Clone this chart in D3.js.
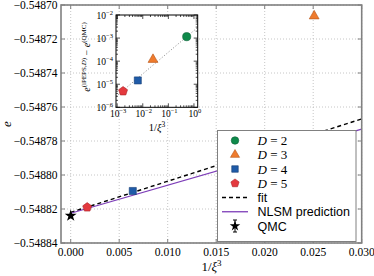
<!DOCTYPE html>
<html>
<head>
<meta charset="utf-8">
<script src="https://cdn.jsdelivr.net/npm/d3@7"></script>
<style>
	html, body { margin: 0; padding: 0; background: #fff; }
	svg { display: block; }
</style>
</head>
<body>
<svg id="chart"></svg>
<script>
	// data
	var seriesNames = ['D = 2', 'D = 3', 'D = 4', 'D = 5'],
		bondDims = [2, 3, 4, 5],
		invXi3 = [0.52, 0.0251, 0.0064, 0.0017],
		energies = [-0.547674, -0.5487065, -0.5488094, -0.548819],
		qmcX = 0,
		qmcE = -0.548824,
		qmcErr = 0.0000004,
		fitX = [0, 0.030],
		fitE = [-0.548822, -0.548767],
		nlsmX = [0, 0.030],
		nlsmE = [-0.5488225, -0.548773],
		insetFitX = [0.0009, 1.4],
		insetFitY = [2.95e-6, 2.9e-3],
		xTicks = [0, 0.005, 0.010, 0.015, 0.020, 0.025, 0.030],
		yTicks = [-0.54884, -0.54882, -0.54880, -0.54878, -0.54876, -0.54874, -0.54872, -0.54870],
		insetXTicks = [-3, -2, -1, 0],
		insetYTicks = [-6, -5, -4, -3, -2];

	var colours = ['#0f8a4b', '#ef7b2d', '#1f5ba8', '#e4393e'],
		edgeColours = ['#0a6035', '#b5561a', '#143d73', '#a92428'];

	var W = 374, H = 276,
		serif = '"Liberation Serif", "DejaVu Serif", serif',
		sans = '"Liberation Sans", Arial, sans-serif';

	var svg = d3.select('#chart').attr('width', W).attr('height', H);

	// pentagon symbol for D = 5
	var symbolPentagon = {
		draw: function (context, size) {
			var r = Math.sqrt(size / 2.378), k;
			for (k = 0; k < 5; k++) {
				var a = -Math.PI / 2 + k * 2 * Math.PI / 5;
				if (k === 0) {
					context.moveTo(r * Math.cos(a), r * Math.sin(a));
				} else {
					context.lineTo(r * Math.cos(a), r * Math.sin(a));
				}
			}
			context.closePath();
		}
	};
	var symbolTypes = [d3.symbolCircle, d3.symbolTriangle, d3.symbolSquare, symbolPentagon],
		symbolSizes = [52, 42, 50, 52];

	var markerPath = function (i, scale) {
		return d3.symbol().type(symbolTypes[i]).size(symbolSizes[i] * (scale || 1))();
	};

	// ---------------- main axes ----------------
	var x = d3.scaleLinear().domain([-0.001, 0.030]).range([61, 361.7]),
		y = d3.scaleLinear().domain([-0.54884, -0.54870]).range([243, 5]);

	svg.append('clipPath').attr('id', 'mainClip')
		.append('rect')
		.attr('x', x.range()[0]).attr('y', y.range()[1])
		.attr('width', x.range()[1] - x.range()[0])
		.attr('height', y.range()[0] - y.range()[1]);

	var grid = svg.append('g').attr('class', 'grid');
	grid.selectAll('.gx').data(xTicks).enter().append('line')
		.attr('x1', x).attr('x2', x)
		.attr('y1', y.range()[0]).attr('y2', y.range()[1]);
	grid.selectAll('.gy').data(yTicks).enter().append('line')
		.attr('x1', x.range()[0]).attr('x2', x.range()[1])
		.attr('y1', y).attr('y2', y);
	grid.selectAll('line')
		.attr('stroke', '#b8b8b8')
		.attr('stroke-width', 0.8)
		.attr('stroke-dasharray', '1,2');

	var plot = svg.append('g').attr('clip-path', 'url(#mainClip)');

	var line = d3.line()
		.x(function (d) { return x(d[0]); })
		.y(function (d) { return y(d[1]); });

	plot.append('path')
		.attr('d', line(d3.zip(fitX, fitE)))
		.attr('fill', 'none')
		.attr('stroke', '#000')
		.attr('stroke-width', 1.4)
		.attr('stroke-dasharray', '4,3');

	plot.append('path')
		.attr('d', line(d3.zip(nlsmX, nlsmE)))
		.attr('fill', 'none')
		.attr('stroke', '#7d3db8')
		.attr('stroke-width', 1.3);

	// QMC point with error bar
	plot.append('line')
		.attr('x1', x(qmcX)).attr('x2', x(qmcX))
		.attr('y1', y(qmcE - qmcErr)).attr('y2', y(qmcE + qmcErr))
		.attr('stroke', '#000');
	plot.append('path')
		.attr('d', d3.symbol().type(d3.symbolStar).size(44)())
		.attr('transform', 'translate(' + x(qmcX) + ',' + y(qmcE) + ')')
		.attr('fill', '#000');

	plot.selectAll('.pt')
		.data(bondDims).enter()
		.append('path')
			.attr('class', 'pt')
			.attr('d', function (d, i) { return markerPath(i); })
			.attr('transform', function (d, i) {
				return 'translate(' + x(invXi3[i]) + ',' + y(energies[i]) + ')';
			})
			.attr('fill', function (d, i) { return colours[i]; })
			.attr('stroke', function (d, i) { return edgeColours[i]; })
			.attr('stroke-width', 0.6);

	// ticks, inward, on all sides
	var ticks = svg.append('g').attr('stroke', '#808080').attr('stroke-width', 1);
	xTicks.forEach(function (t) {
		ticks.append('line').attr('x1', x(t)).attr('x2', x(t)).attr('y1', y.range()[0]).attr('y2', y.range()[0] - 4);
		ticks.append('line').attr('x1', x(t)).attr('x2', x(t)).attr('y1', y.range()[1]).attr('y2', y.range()[1] + 4);
	});
	yTicks.forEach(function (t) {
		ticks.append('line').attr('x1', x.range()[0]).attr('x2', x.range()[0] + 4).attr('y1', y(t)).attr('y2', y(t));
		ticks.append('line').attr('x1', x.range()[1]).attr('x2', x.range()[1] - 4).attr('y1', y(t)).attr('y2', y(t));
	});

	svg.append('rect')
		.attr('x', x.range()[0]).attr('y', y.range()[1])
		.attr('width', x.range()[1] - x.range()[0])
		.attr('height', y.range()[0] - y.range()[1])
		.attr('fill', 'none')
		.attr('stroke', '#808080')
		.attr('stroke-width', 1.6);

	svg.selectAll('.xl').data(xTicks).enter().append('text')
		.attr('x', x).attr('y', 256)
		.attr('text-anchor', 'middle')
		.style('font', '11.5px ' + serif)
		.text(function (d) { return d3.format('.3f')(d); });

	svg.selectAll('.yl').data(yTicks).enter().append('text')
		.attr('x', 57.5).attr('y', function (d) { return y(d) + 4; })
		.attr('text-anchor', 'end')
		.style('font', '11.5px ' + serif)
		.text(function (d) { return d3.format('.5f')(d).replace('-', '\u2212'); });

	svg.append('text')
		.attr('transform', 'translate(11,124) rotate(-90)')
		.attr('text-anchor', 'middle')
		.style('font', 'italic 13px ' + serif)
		.text('e');

	var xLabel = svg.append('text')
		.attr('x', 211.5).attr('y', 271)
		.attr('text-anchor', 'middle')
		.style('font', '13px ' + serif);
	xLabel.append('tspan').text('1/');
	xLabel.append('tspan').style('font-style', 'italic').text('\u03be');
	xLabel.append('tspan').attr('dy', -5).style('font-size', '9px').text('3');

	// ---------------- inset ----------------
	var ix = d3.scaleLog().domain([0.0009, 1.4]).range([116, 197.7]),
		iy = d3.scaleLog().domain([1e-6, 1e-2]).range([107.3, 15]);

	svg.append('rect')
		.attr('x', 116).attr('y', 15)
		.attr('width', 81.7).attr('height', 92.3)
		.attr('fill', '#fff');

	var inset = svg.append('g');

	inset.append('path')
		.attr('d', d3.line()
			.x(function (d) { return ix(d[0]); })
			.y(function (d) { return iy(d[1]); })(d3.zip(insetFitX, insetFitY)))
		.attr('fill', 'none')
		.attr('stroke', '#777')
		.attr('stroke-width', 0.9)
		.attr('stroke-dasharray', '1,2');

	inset.selectAll('.ipt')
		.data(bondDims).enter()
		.append('path')
			.attr('d', function (d, i) { return markerPath(i); })
			.attr('transform', function (d, i) {
				return 'translate(' + ix(invXi3[i]) + ',' + iy(energies[i] - qmcE) + ')';
			})
			.attr('fill', function (d, i) { return colours[i]; })
			.attr('stroke', function (d, i) { return edgeColours[i]; })
			.attr('stroke-width', 0.6);

	var iticks = svg.append('g').attr('stroke', '#000').attr('stroke-width', 0.7);
	var minor = [2, 3, 4, 5, 6, 7, 8, 9];
	insetXTicks.forEach(function (p) {
		var v = Math.pow(10, p);
		iticks.append('line').attr('x1', ix(v)).attr('x2', ix(v)).attr('y1', 107.3).attr('y2', 103.3);
		iticks.append('line').attr('x1', ix(v)).attr('x2', ix(v)).attr('y1', 15).attr('y2', 19);
		minor.forEach(function (m) {
			var mv = m * v;
			if (mv > ix.domain()[1] || mv < ix.domain()[0]) { return; }
			iticks.append('line').attr('x1', ix(mv)).attr('x2', ix(mv)).attr('y1', 107.3).attr('y2', 105.3);
			iticks.append('line').attr('x1', ix(mv)).attr('x2', ix(mv)).attr('y1', 15).attr('y2', 17);
		});
	});
	insetYTicks.forEach(function (p) {
		var v = Math.pow(10, p);
		iticks.append('line').attr('x1', 116).attr('x2', 120).attr('y1', iy(v)).attr('y2', iy(v));
		iticks.append('line').attr('x1', 197.7).attr('x2', 193.7).attr('y1', iy(v)).attr('y2', iy(v));
		if (p === -2) { return; }
		minor.forEach(function (m) {
			var mv = m * v;
			iticks.append('line').attr('x1', 116).attr('x2', 118).attr('y1', iy(mv)).attr('y2', iy(mv));
			iticks.append('line').attr('x1', 197.7).attr('x2', 195.7).attr('y1', iy(mv)).attr('y2', iy(mv));
		});
	});

	svg.append('rect')
		.attr('x', 116).attr('y', 15)
		.attr('width', 81.7).attr('height', 92.3)
		.attr('fill', 'none')
		.attr('stroke', '#000')
		.attr('stroke-width', 1);

	var powLabel = function (sel, p) {
		sel.append('tspan').text('10');
		sel.append('tspan').attr('dy', -4).style('font-size', '6.5px')
			.text(String(p).replace('-', '\u2212'));
	};

	insetXTicks.forEach(function (p) {
		var t = svg.append('text')
			.attr('x', ix(Math.pow(10, p)) + 1).attr('y', 117)
			.attr('text-anchor', 'middle')
			.style('font', '9.5px ' + serif);
		powLabel(t, p);
	});
	insetYTicks.forEach(function (p) {
		var t = svg.append('text')
			.attr('x', 113).attr('y', iy(Math.pow(10, p)) + 3.5)
			.attr('text-anchor', 'end')
			.style('font', '9.5px ' + serif);
		powLabel(t, p);
	});

	var iyLabel = svg.append('text')
		.attr('transform', 'translate(90,57) rotate(-90)')
		.attr('text-anchor', 'middle')
		.style('font', '10px ' + serif);
	iyLabel.append('tspan').style('font-style', 'italic').text('e');
	iyLabel.append('tspan').attr('dy', -4).style('font-size', '7px').text('(iPEPS,');
	iyLabel.append('tspan').style('font-size', '7px').style('font-style', 'italic').text('D');
	iyLabel.append('tspan').style('font-size', '7px').text(')');
	iyLabel.append('tspan').attr('dy', 4).text(' \u2212 ');
	iyLabel.append('tspan').style('font-style', 'italic').text('e');
	iyLabel.append('tspan').attr('dy', -4).style('font-size', '7px').text('(QMC)');

	var ixLabel = svg.append('text')
		.attr('x', 157).attr('y', 131)
		.attr('text-anchor', 'middle')
		.style('font', '10.5px ' + serif);
	ixLabel.append('tspan').text('1/');
	ixLabel.append('tspan').style('font-style', 'italic').text('\u03be');
	ixLabel.append('tspan').attr('dy', -4).style('font-size', '7.5px').text('3');

	// ---------------- legend ----------------
	var legend = svg.append('g');
	legend.append('rect')
		.attr('x', 217.5).attr('y', 130.5)
		.attr('width', 138.5).attr('height', 111)
		.attr('fill', '#fff')
		.attr('stroke', '#808080')
		.attr('stroke-width', 1);

	var rowY = function (k) { return 140.5 + k * 14.25; };

	seriesNames.forEach(function (name, i) {
		legend.append('path')
			.attr('d', markerPath(i, 0.85))
			.attr('transform', 'translate(235,' + rowY(i) + ')')
			.attr('fill', colours[i])
			.attr('stroke', edgeColours[i])
			.attr('stroke-width', 0.6);
		var t = legend.append('text')
			.attr('x', 257.5).attr('y', rowY(i) + 4.5)
			.style('font', '13px ' + serif);
		t.append('tspan').style('font-style', 'italic').text('D');
		t.append('tspan').text(' = ' + bondDims[i]);
	});

	legend.append('line')
		.attr('x1', 222).attr('x2', 248).attr('y1', rowY(4)).attr('y2', rowY(4))
		.attr('stroke', '#000').attr('stroke-width', 1.4).attr('stroke-dasharray', '4,3');
	legend.append('line')
		.attr('x1', 222).attr('x2', 248).attr('y1', rowY(5)).attr('y2', rowY(5))
		.attr('stroke', '#7d3db8').attr('stroke-width', 1.3);
	legend.append('line')
		.attr('x1', 235).attr('x2', 235).attr('y1', rowY(6) - 6).attr('y2', rowY(6) + 6)
		.attr('stroke', '#000');
	[-6, 6].forEach(function (o) {
		legend.append('line')
			.attr('x1', 233).attr('x2', 237).attr('y1', rowY(6) + o).attr('y2', rowY(6) + o)
			.attr('stroke', '#000');
	});
	legend.append('path')
		.attr('d', d3.symbol().type(d3.symbolStar).size(34)())
		.attr('transform', 'translate(235,' + rowY(6) + ')')
		.attr('fill', '#000');

	['fit', 'NLSM prediction', 'QMC'].forEach(function (s, k) {
		legend.append('text')
			.attr('x', 257.5).attr('y', rowY(4 + k) + 4.5)
			.style('font', '12.5px ' + sans)
			.text(s);
	});
</script>
</body>
</html>
